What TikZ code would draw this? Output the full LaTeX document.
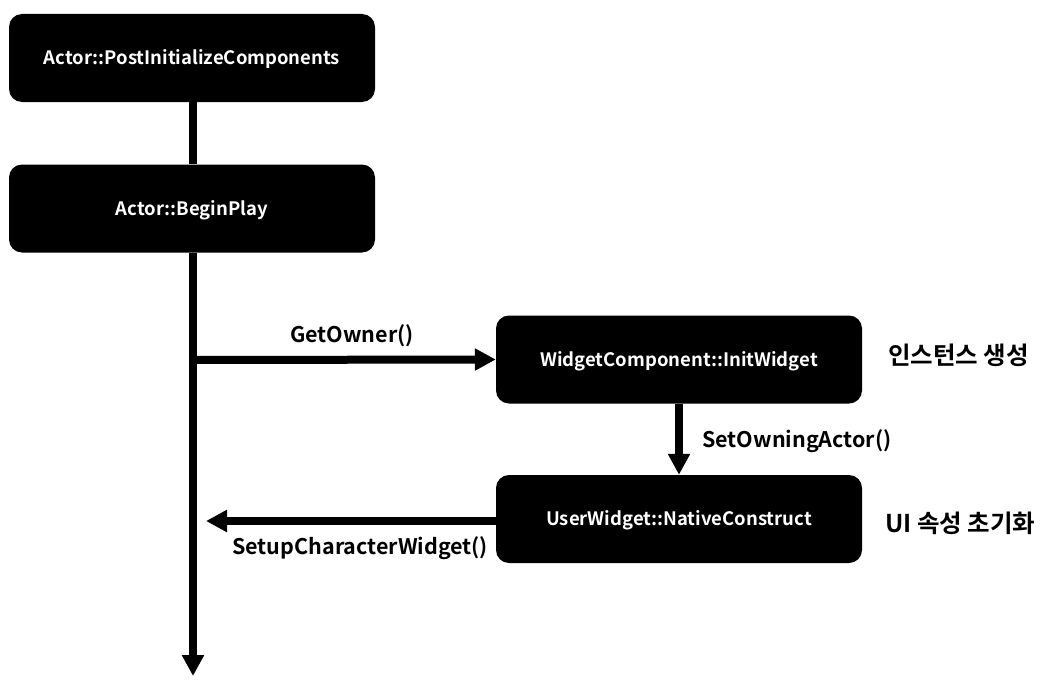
\documentclass[tikz,border=0pt]{standalone}
\usepackage{fontspec}
\setmainfont{Noto Sans CJK KR}[BoldFont={* Bold}]
\usetikzlibrary{arrows.meta}
\begin{document}
\begin{tikzpicture}[x=1pt,y=-1pt,
  blk/.style={fill=black, rounded corners=13pt, minimum width=366pt, minimum height=88pt, inner sep=0pt,
    text height=17pt, text depth=4pt,
    text=white, font=\fontsize{18.5}{22}\selectfont\bfseries},
  conn/.style={line width=8pt, draw=black},
  arr/.style={conn, -{Triangle[length=21pt,width=21pt]}},
  lbl/.style={font=\fontsize{21.5}{26}\selectfont\bfseries, inner sep=0pt},
  klbl/.style={font=\fontsize{24.5}{29}\selectfont\bfseries, inner sep=0pt}]
\useasboundingbox (0,0) rectangle (1051,685);
\node[blk] (b1) at (192,58) {Actor::PostInitializeComponents};
\node[blk] (b2) at (192,208.5) {Actor::BeginPlay};
\node[blk] (b3) at (679,359.5) {WidgetComponent::InitWidget};
\node[blk] (b4) at (679,519) {UserWidget::NativeConstruct};
\coordinate (bot) at (193,676);
\coordinate (fork) at (193,360);
\coordinate (ret) at (206,521);
\draw[conn] (b1.south -| fork) -- (b2.north -| fork);
\draw[arr] (b2.south -| fork) -- (bot);
\draw[arr] (fork) -- (b3.west);
\draw[arr] (b3.south) -- (b4.north);
\draw[arr] (b4.west |- ret) -- (ret);
\node[lbl] (l1) at (352,336) {GetOwner()};
\node[lbl, anchor=west] (l2) at (702,441) {SetOwningActor()};
\node[lbl, anchor=west] (l3) at (232,548) {SetupCharacterWidget()};
\node[klbl, anchor=west] (k1) at (888,355) {인스턴스 생성};
\node[klbl, anchor=west] (k2) at (885,523) {UI 속성 초기화};
\end{tikzpicture}
\end{document}
